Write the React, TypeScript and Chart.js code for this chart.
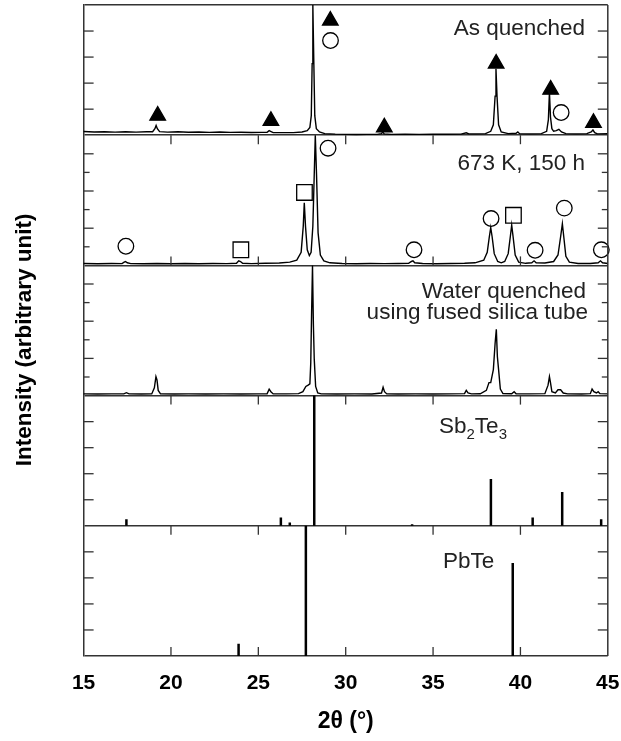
import { useEffect, useRef } from 'react';
import { Chart, registerables } from 'chart.js';

Chart.register(...registerables);

// ---------- data ----------
const xTickValues = [15, 20, 25, 30, 35, 40, 45];
const panelBase = [4, 3, 2, 1, 0]; // As quenched, 673 K, Water quenched, Sb2Te3, PbTe

// As quenched pattern (2θ, relative intensity within panel)
const asQuenchedX = [15.0, 15.6, 16.2, 16.8, 17.4, 18.0, 18.6, 18.95, 19.08, 19.15, 19.22, 19.35, 19.8, 20.4, 21.0, 21.6, 22.2, 22.8, 23.4, 24.0, 24.6, 25.2, 25.5, 25.62, 25.7, 25.85, 26.4, 27.0, 27.5, 27.8, 27.95, 28.03, 28.08, 28.12, 28.17, 28.23, 28.32, 28.5, 28.8, 29.4, 30.0, 30.6, 31.2, 31.8, 32.05, 32.12, 32.2, 32.6, 33.4, 34.2, 35.0, 35.8, 36.6, 36.9, 37.05, 37.5, 38.0, 38.3, 38.45, 38.55, 38.6, 38.66, 38.75, 38.9, 39.3, 39.75, 39.85, 39.95, 40.5, 41.2, 41.5, 41.6, 41.66, 41.72, 41.8, 41.9, 42.05, 42.2, 42.35, 42.6, 43.2, 43.8, 44.05, 44.15, 44.25, 44.4, 45.0];
const asQuenchedY = [0.028, 0.025, 0.027, 0.024, 0.026, 0.024, 0.026, 0.027, 0.05, 0.075, 0.05, 0.027, 0.024, 0.026, 0.023, 0.025, 0.022, 0.024, 0.022, 0.023, 0.021, 0.022, 0.022, 0.035, 0.03, 0.02, 0.02, 0.02, 0.025, 0.035, 0.06, 0.15, 0.55, 1.0, 0.6, 0.15, 0.05, 0.025, 0.012, 0.008, 0.006, 0.005, 0.006, 0.006, 0.012, 0.025, 0.01, 0.006, 0.007, 0.006, 0.008, 0.007, 0.008, 0.018, 0.01, 0.01, 0.012, 0.03, 0.08, 0.3, 0.51, 0.3, 0.08, 0.025, 0.012, 0.015, 0.025, 0.012, 0.01, 0.012, 0.03, 0.12, 0.33, 0.14, 0.05, 0.03, 0.035, 0.045, 0.025, 0.012, 0.01, 0.012, 0.025, 0.04, 0.02, 0.01, 0.012];

// 673 K, 150 h pattern
const annealedX = [15.0, 15.8, 16.6, 17.2, 17.32, 17.4, 17.5, 17.7, 18.4, 19.2, 20.0, 20.8, 21.6, 22.4, 23.2, 23.75, 23.88, 23.98, 24.1, 24.6, 25.4, 26.2, 26.8, 27.2, 27.45, 27.57, 27.63, 27.7, 27.8, 27.92, 28.02, 28.12, 28.2, 28.26, 28.33, 28.42, 28.55, 28.75, 29.1, 29.8, 30.6, 31.4, 32.2, 33.0, 33.6, 33.76, 33.85, 33.95, 34.4, 35.2, 36.0, 36.8, 37.4, 37.9, 38.1, 38.22, 38.3, 38.38, 38.5, 38.7, 38.9, 39.1, 39.3, 39.42, 39.5, 39.58, 39.7, 39.9, 40.3, 40.65, 40.78, 40.9, 41.4, 41.9, 42.15, 42.3, 42.4, 42.48, 42.6, 42.8, 43.3, 44.0, 44.45, 44.58, 44.7, 45.0];
const annealedY = [0.015, 0.013, 0.015, 0.014, 0.025, 0.03, 0.02, 0.014, 0.013, 0.015, 0.013, 0.015, 0.013, 0.015, 0.014, 0.016, 0.035, 0.03, 0.016, 0.014, 0.016, 0.018, 0.025, 0.04, 0.1, 0.3, 0.48, 0.3, 0.12, 0.075, 0.1, 0.3, 0.7, 1.0, 0.7, 0.25, 0.08, 0.035, 0.02, 0.015, 0.013, 0.015, 0.014, 0.015, 0.016, 0.03, 0.035, 0.02, 0.015, 0.013, 0.015, 0.016, 0.02, 0.04, 0.1, 0.22, 0.29, 0.22, 0.09, 0.03, 0.02, 0.03, 0.09, 0.22, 0.31, 0.22, 0.08, 0.025, 0.016, 0.02, 0.035, 0.02, 0.018, 0.03, 0.08, 0.22, 0.32, 0.22, 0.07, 0.025, 0.015, 0.015, 0.02, 0.035, 0.02, 0.015];

// Water quenched using fused silica tube
const waterX = [15.0, 15.8, 16.6, 17.3, 17.45, 17.6, 18.3, 18.9, 19.05, 19.14, 19.2, 19.27, 19.4, 20.2, 21.0, 22.0, 23.0, 24.0, 25.0, 25.5, 25.62, 25.72, 25.85, 26.6, 27.3, 27.55, 27.72, 27.85, 27.95, 28.0, 28.05, 28.1, 28.15, 28.2, 28.28, 28.4, 28.6, 29.5, 30.5, 31.5, 32.05, 32.14, 32.22, 32.35, 33.0, 34.0, 35.0, 36.0, 36.8, 36.9, 37.0, 37.2, 37.7, 38.05, 38.2, 38.3, 38.45, 38.55, 38.62, 38.68, 38.75, 38.85, 39.0, 39.5, 39.64, 39.75, 40.5, 41.4, 41.58, 41.66, 41.72, 41.8, 42.0, 42.15, 42.3, 42.45, 42.7, 43.5, 44.0, 44.1, 44.2, 44.35, 44.45, 44.55, 45.0];
const waterY = [0.013, 0.012, 0.013, 0.013, 0.022, 0.013, 0.012, 0.013, 0.06, 0.146, 0.12, 0.04, 0.013, 0.012, 0.013, 0.012, 0.013, 0.012, 0.013, 0.014, 0.05, 0.03, 0.013, 0.013, 0.015, 0.03, 0.07, 0.08, 0.09, 0.25, 0.65, 1.0, 0.55, 0.28, 0.07, 0.02, 0.013, 0.012, 0.013, 0.012, 0.02, 0.064, 0.03, 0.013, 0.012, 0.013, 0.012, 0.013, 0.015, 0.04, 0.02, 0.013, 0.014, 0.04, 0.1, 0.1, 0.2, 0.4, 0.51, 0.3, 0.2, 0.05, 0.015, 0.014, 0.03, 0.014, 0.013, 0.015, 0.08, 0.146, 0.1, 0.03, 0.02, 0.045, 0.045, 0.02, 0.013, 0.012, 0.015, 0.05, 0.03, 0.02, 0.03, 0.015, 0.013];

// Reference sticks
const sb2te3Pos = [17.45, 26.29, 26.8, 28.2, 33.8, 38.31, 40.7, 42.39, 44.62];
const sb2te3Int = [0.05, 0.063, 0.025, 1.0, 0.012, 0.36, 0.063, 0.26, 0.05];
const pbtePos = [23.87, 27.72, 39.56];
const pbteInt = [0.094, 1.0, 0.714];

// Phase markers (2θ, height within panel)
const p1TriX = [19.24, 25.72, 29.12, 32.21, 38.61, 41.73, 44.18];
const p1TriY = [0.15, 0.11, 0.88, 0.06, 0.55, 0.35, 0.095];
const p1CircX = [29.13, 42.33];
const p1CircY = [0.727, 0.174];
const p2CircX = [17.42, 28.99, 33.91, 38.32, 40.84, 42.51, 44.63];
const p2CircY = [0.147, 0.9, 0.12, 0.36, 0.116, 0.44, 0.12];
const p2SqX = [24.0, 27.64, 39.6];
const p2SqY = [0.12, 0.56, 0.385];

// y tick divisions per panel, alternating long/short flag
const panelTickDivs = [5, 7, 7, 5, 5];
const panelTickAlt = [false, true, true, false, false];
const panelTopXTicks = [false, true, false, true, true];
const panelBottomXTicks = [false, true, false, false, true];

const FONT = '"Liberation Sans", Arial, Helvetica, sans-serif';

function spectrum(xs: number[], ys: number[], base: number) {
  return xs.map((x, i) => ({ x, y: base + Math.min(ys[i], 1) }));
}
function sticks(xs: number[], hs: number[], base: number) {
  const out: any[] = [];
  xs.forEach((x, i) => {
    out.push({ x, y: base });
    out.push({ x, y: base + hs[i] });
    out.push({ x, y: null });
  });
  return out;
}
function markers(xs: number[], ys: number[], base: number) {
  return xs.map((x, i) => ({ x, y: base + ys[i] }));
}

const framePlugin = {
  id: 'frame',
  afterDraw(chart: any) {
    const { ctx, chartArea: a, scales } = chart;
    const xs = scales.x;
    const ys = scales.y;
    ctx.save();
    ctx.strokeStyle = '#333';
    ctx.lineWidth = 1.5;
    const seg = (x1: number, y1: number, x2: number, y2: number) => {
      ctx.beginPath();
      ctx.moveTo(x1, y1);
      ctx.lineTo(x2, y2);
      ctx.stroke();
    };
    seg(a.right, a.top, a.right, a.bottom);
    ctx.lineWidth = 1.3;
    panelBase.forEach((base, p) => {
      const n = panelTickDivs[p];
      for (let k = 1; k < n; k++) {
        const long = panelTickAlt[p] ? k % 2 === 0 : true;
        const len = long ? 10 : 6;
        const py = ys.getPixelForValue(base + k / n);
        seg(a.left, py, a.left + len, py);
        seg(a.right, py, a.right - len, py);
      }
      const top = ys.getPixelForValue(base + 1);
      const bot = ys.getPixelForValue(base);
      xTickValues.slice(1, -1).forEach((v) => {
        const px = xs.getPixelForValue(v);
        if (panelTopXTicks[p]) seg(px, top, px, top + 9);
        if (panelBottomXTicks[p]) seg(px, bot, px, bot - 9);
      });
    });

    // panel labels
    ctx.fillStyle = '#222';
    ctx.textBaseline = 'alphabetic';
    ctx.font = `22.5px ${FONT}`;
    ctx.textAlign = 'right';
    ctx.fillText('As quenched', 585, 35);
    ctx.fillText('673 K, 150 h', 585, 170);
    ctx.fillText('Water quenched', 586, 298);
    ctx.fillText('using fused silica tube', 588, 318.5);

    const sub = (parts: [string, boolean][], x0: number, y0: number) => {
      ctx.textAlign = 'left';
      let x = x0;
      parts.forEach(([t, s]) => {
        ctx.font = s ? `15px ${FONT}` : `22.5px ${FONT}`;
        ctx.fillText(t, x, s ? y0 + 6 : y0);
        x += ctx.measureText(t).width;
      });
    };
    sub([['Sb', false], ['2', true], ['Te', false], ['3', true]], 439, 433);
    sub([['PbTe', false]], 443, 568);
    ctx.restore();
  },
};

export default function App() {
  const ref = useRef<HTMLCanvasElement | null>(null);
  useEffect(() => {
    if (!ref.current) return;
    const lineDs = (label: string, data: any[], width: number) => ({
      type: 'line' as const,
      label,
      data,
      borderColor: '#000',
      borderWidth: width,
      pointRadius: 0,
      tension: 0,
      spanGaps: false,
      clip: false as any,
    });
    const markerDs = (label: string, data: any[], style: string, r: number, filled: boolean) => ({
      type: 'scatter' as const,
      label,
      data,
      pointStyle: style,
      pointRadius: r,
      pointHoverRadius: r,
      borderColor: '#000',
      borderWidth: 1.3,
      backgroundColor: filled ? '#000' : 'rgba(255,255,255,0)',
      showLine: false,
      clip: false as any,
    });
    const chart = new Chart(ref.current, {
      type: 'line',
      data: {
        datasets: [
          lineDs('As quenched', spectrum(asQuenchedX, asQuenchedY, panelBase[0]), 1.4),
          lineDs('673 K, 150 h', spectrum(annealedX, annealedY, panelBase[1]), 1.4),
          lineDs('Water quenched', spectrum(waterX, waterY, panelBase[2]), 1.4),
          lineDs('Sb2Te3', sticks(sb2te3Pos, sb2te3Int, panelBase[3]), 2.5),
          lineDs('PbTe', sticks(pbtePos, pbteInt, panelBase[4]), 2.5),
          markerDs('tri1', markers(p1TriX, p1TriY, panelBase[0]), 'triangle', 9, true),
          markerDs('circ1', markers(p1CircX, p1CircY, panelBase[0]), 'circle', 7.8, false),
          markerDs('circ2', markers(p2CircX, p2CircY, panelBase[1]), 'circle', 7.8, false),
          markerDs('sq2', markers(p2SqX, p2SqY, panelBase[1]), 'rect', 11, false),
        ] as any,
      },
      options: {
        animation: false,
        responsive: false,
        devicePixelRatio: 1,
        layout: { autoPadding: false, padding: { top: 5, right: 13.2, left: 0, bottom: 0 } },
        plugins: { legend: { display: false }, tooltip: { enabled: false } },
        scales: {
          x: {
            type: 'linear',
            min: 15,
            max: 45,
            afterBuildTicks: (s: any) => {
              s.ticks = xTickValues.map((v) => ({ value: v }));
            },
            afterFit: (s: any) => {
              s.height = 85;
              s.paddingLeft = 0;
              s.paddingRight = 0;
            },
            ticks: {
              color: '#000',
              font: { family: FONT, size: 21, weight: 'bold' },
              padding: 15,
              maxRotation: 0,
              autoSkip: false,
            },
            grid: { display: false, drawTicks: false },
            border: { display: false },
            title: {
              display: true,
              text: '2θ (°)',
              color: '#000',
              font: { family: FONT, size: 23, weight: 'bold' },
              padding: { top: 0, bottom: 6 },
            },
          },
          y: {
            type: 'linear',
            min: 0,
            max: 5,
            ticks: { stepSize: 1, display: false },
            afterFit: (s: any) => {
              s.width = 83.6;
              s.paddingTop = 0;
              s.paddingBottom = 0;
            },
            grid: { color: '#333', lineWidth: 1.5, drawTicks: false },
            border: { display: true, color: '#333', width: 1.5 },
            title: {
              display: true,
              text: 'Intensity (arbitrary unit)   ',
              color: '#000',
              font: { family: FONT, size: 22.5, weight: 'bold' },
              padding: { top: 11, bottom: 0 },
            },
          },
        },
      } as any,
      plugins: [framePlugin],
    });
    return () => chart.destroy();
  }, []);
  return (
    <div style={{ position: 'fixed', left: 0, top: 0, width: 621, height: 741, background: '#fff' }}>
      <canvas ref={ref} width={621} height={741} style={{ width: 621, height: 741, display: 'block' }} />
    </div>
  );
}
